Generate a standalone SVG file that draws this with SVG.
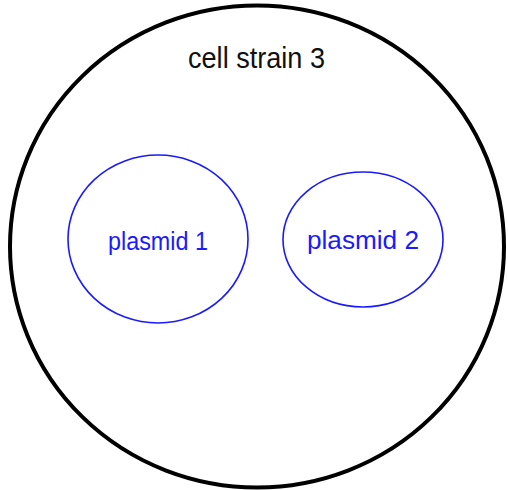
<svg xmlns="http://www.w3.org/2000/svg" width="508" height="490" viewBox="0 0 508 490">
<style>
.cell{fill:#fff;stroke:#000;stroke-width:4}
.pl{fill:none;stroke:#1a1aff;stroke-width:1.6}
.t{font-family:"Liberation Sans Narrow","Liberation Sans",Arial,sans-serif;text-anchor:start}
.tb{fill:#1a1aff}
.tk{fill:#111}
</style>
<rect width="508" height="490" fill="#fff"/>
<g id="cell">
<ellipse class="cell" cx="257" cy="246.5" rx="247" ry="241"/>
<text class="t tk" x="188" y="68" font-size="30" textLength="137" lengthAdjust="spacingAndGlyphs">cell strain 3</text>
</g>
<g id="plasmid1">
<ellipse class="pl" cx="158" cy="239" rx="90" ry="84"/>
<text class="t tb" x="108" y="250" font-size="26" textLength="100" lengthAdjust="spacingAndGlyphs">plasmid 1</text>
</g>
<g id="plasmid2">
<ellipse class="pl" cx="363" cy="239.5" rx="80" ry="67.5"/>
<text class="t tb" x="307" y="249" font-size="26" textLength="112" lengthAdjust="spacingAndGlyphs">plasmid 2</text>
</g>
<g id="connectors"/>
</svg>
